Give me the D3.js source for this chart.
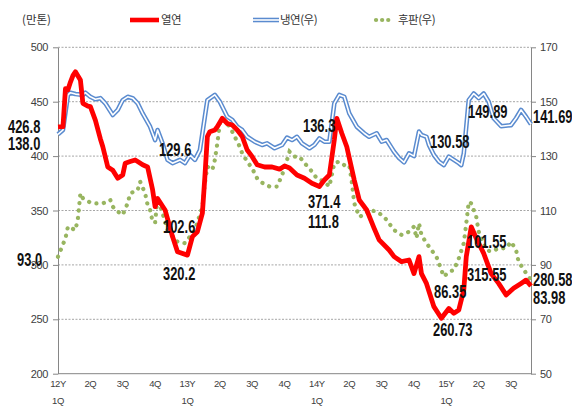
<!DOCTYPE html>
<html>
<head>
<meta charset="utf-8">
<script src="https://cdnjs.cloudflare.com/ajax/libs/d3/7.8.5/d3.min.js"></script>
<style>
  body { margin: 0; background: #fff; }
  svg text { font-family: "Liberation Sans", Arial, sans-serif; }
</style>
</head>
<body>
<div id="chart"></div>
<script>
// weekly data, week 0 = 2012 1Q start
var hotRolled = [
	[0,426.8],[2,427],[3,462],[4,461],[5,468],[6,474],[7,477.6],[9,470],[10,448.5],[12,446],[13,445.5],
	[15,433],[17,416],[18,408.6],[20,390],[22,387],[24,379.6],[26,382.6],[27,393.4],[29,395],[31,396.4],
	[32,395],[34,392],[36,390],[38,369],[39,353.5],[40,361],[43,350.5],[46,326],[48,312],[52,309],
	[54,326],[56,330.5],[58,347.5],[59,381],[60,418],[61,422.4],[63,424],[64,427],[66,434.7],[68,430],
	[70,428.6],[72,424],[74,418],[76,405.6],[78,399.5],[80,392],[83,390],[86,390],[89,388],[91,391],
	[93,389],[96,382.6],[99,379.6],[102,375],[105,372],[107,378],[109,382.6],[111,415],[112,434.7],
	[114,421],[116,408.6],[119,378],[121,359.7],[124,350.5],[127,333.6],[129,323],[133,313.7],[135,307.6],
	[137,304.5],[138,303],[141,304.5],[143,292],[145,307.6],[146,292],[148,283],[151,261.6],[154,251],
	[157,260],[159,255.5],[161,258.6],[163,277],[164,307.6],[166,335],[168,324.5],[171,310.6],[174,292],
	[177,283],[180,272.4],[183,278.5],[186,283],[188,286],[190,280.6]
];

var coldRolled = [
	[0,138.0],[2,139.6],[4,152.5],[5,153.3],[7,152.8],[10,152.5],[11,153.3],[13,151.8],[15,150.9],[17,151.3],
	[19,149.4],[22,145.1],[24,147],[26,150.6],[28,151.8],[30,151.3],[32,149.4],[34,145.7],[37,140.8],
	[39,135.9],[40,139.6],[42,134.7],[44,128.6],[46,127.4],[49,128.6],[51,127.4],[53,130.4],[55,128.6],
	[57,132.2],[59,144.5],[60,150.6],[63,152.5],[65,150],[68,144.5],[70,143.3],[72,140.8],[74,139.6],
	[76,137.1],[79,135.3],[82,134.1],[84,134.7],[87,132.9],[90,134.1],[92,136.8],[94,135.9],[96,137.1],
	[98,134.7],[101,132.9],[103,134.1],[105,136.5],[107,135.3],[109,135.3],[111,149.4],[113,152.5],
	[115,151.8],[117,145.7],[120,140.8],[123,138.4],[125,137.1],[128,138.4],[130,135.3],[132,135.9],
	[135,131.6],[137,129.3],[139,127.7],[141,131],[143,130],[145,139],[146,137.8],[148,137.1],[149,134.1],
	[151,130.4],[153,128],[155,126.7],[157,129.8],[159,128.6],[161,127.4],[162,126.7],[163,131],[165,150.6],
	[167,153],[169,151.3],[171,153],[173,150],[175,143.9],[178,141],[182,141.4],[184,143.9],[186,147],
	[188,144.5],[190,141.7]
];

var plate = [
	[0,93.0],[3,99.8],[4,104.1],[7,102.8],[8,107.1],[9,116.3],[10,114.5],[13,112.9],[15,112.6],[18,112.6],
	[21,113.9],[22,111.4],[24,109.6],[26,108.4],[28,112.7],[29,116.3],[32,117.5],[33,120.6],[35,116.3],
	[36,112],[37,110.2],[38,105.9],[39,105.5],[40,115],[42,109],[44,102.8],[46,100.4],[48,98.5],[51,98],
	[53,100.4],[55,102.8],[58,111.4],[59,120],[60,126.1],[62,124.9],[63,128.6],[64,134.7],[65,142],
	[66,143.9],[68,142],[70,139],[72,135.3],[73,133.5],[74,131],[76,128],[78,125.5],[80,121.8],[82,120.2],
	[85,118.8],[88,118.8],[90,123],[92,128.6],[93,131.6],[95,129.8],[97,129.8],[99,127.4],[101,125.5],
	[104,121.8],[107,120.6],[109,118.8],[111,127.4],[113,128],[115,126.7],[117,126.7],[118,120.6],
	[119,112.7],[121,107.7],[123,108.4],[125,110.2],[128,109.6],[131,107.7],[133,105.3],[135,102.8],
	[138,101],[141,102.2],[143,104.1],[144,99.8],[145,105.3],[146,101],[148,98],[150,95.5],[152,93],
	[155,85.7],[157,87.5],[159,88.1],[161,92.4],[163,98],[164,105.3],[165,113.2],[166,112.6],[168,107.7],
	[169,102.2],[172,95.5],[174,94.9],[177,96.1],[180,96.1],[182,98.5],[184,95.5],[185,91.2],[188,87],
	[190,84.5]
];

var leftTicks = [200, 250, 300, 350, 400, 450, 500];
var rightTicks = [50, 70, 90, 110, 130, 150, 170];
var quarterLabels = ["12Y|1Q","2Q","3Q","4Q","13Y|1Q","2Q","3Q","4Q","14Y|1Q","2Q","3Q","4Q","15Y|1Q","2Q","3Q"];
var seriesNames = ["열연", "냉연(우)", "후판(우)"];
var valueLabels = ["426.8","138.0","129.6","93.0","102.6","320.2","136.3","371.4","111.8",
	"130.58","149.89","141.69","101.55","315.55","86.35","260.73","280.58","83.98"];

// label placement (start x, baseline y)
var labelPos = [[8,133],[8,150],[159,156],[17,266],[163,233],[163,280],[303,132],[308,208],[308,228],
	[430,148],[468,118],[533,123],[467,248],[467,281],[434,298],[433,336],[533,286],[533,304]];

var chartW = 572,
	chartH = 412,
	plotLeft = 58,
	plotRight = 531,
	plotTop = 47.3,
	plotBottom = 373.7;

var svg = d3.select("#chart")
		.append("svg")
		.attr("width", chartW)
		.attr("height", chartH);

var x = d3.scaleLinear().domain([0, 190]).range([plotLeft, plotRight]);
var yL = d3.scaleLinear().domain([200, 500]).range([plotBottom, plotTop]);
var yR = d3.scaleLinear().domain([50, 170]).range([plotBottom, plotTop]);

// gridlines
svg.append("g")
	.selectAll("line")
	.data(leftTicks.slice(1))
	.enter()
	.append("line")
		.attr("x1", plotLeft)
		.attr("x2", plotRight)
		.attr("y1", function(d){return yL(d);})
		.attr("y2", function(d){return yL(d);})
		.attr("stroke", "#a6a6a6")
		.attr("stroke-width", 1)
		.attr("stroke-dasharray", "2,1.5");

// axes
var axL = svg.append("g")
	.attr("transform", "translate(" + plotLeft + ",0)")
	.call(d3.axisLeft(yL).tickValues(leftTicks).tickSize(5).tickSizeOuter(0).tickPadding(5));

var axR = svg.append("g")
	.attr("transform", "translate(" + plotRight + ",0)")
	.call(d3.axisRight(yR).tickValues(rightTicks).tickSize(5).tickSizeOuter(0).tickPadding(4));

[axL, axR].forEach(function(ax) {
	ax.select(".domain").attr("stroke", "#868686");
	ax.selectAll(".tick line").attr("stroke", "#868686");
	ax.selectAll(".tick text")
		.attr("fill", "#404040")
		.style("font-size", "11px")
		.style("letter-spacing", "-0.4px");
});

svg.append("line")
	.attr("x1", plotLeft)
	.attr("x2", plotRight)
	.attr("y1", plotBottom)
	.attr("y2", plotBottom)
	.attr("stroke", "#868686");

// x labels
var xl = svg.append("g")
	.selectAll("text")
	.data(quarterLabels)
	.enter()
	.append("text")
		.attr("text-anchor", "middle")
		.attr("fill", "#404040")
		.style("font-size", "9.5px")
		.style("letter-spacing", "-0.4px");

xl.each(function(d, i) {
	var parts = d.split("|");
	var t = d3.select(this);
	parts.forEach(function(p, j) {
		t.append("tspan")
			.attr("x", x(i * 13))
			.attr("y", 387 + j * 17)
			.text(p);
	});
});

// series
var lineL = d3.line().x(function(d){return x(d[0]);}).y(function(d){return yL(d[1]);});
var lineR = d3.line().x(function(d){return x(d[0]);}).y(function(d){return yR(d[1]);});

svg.append("path")
	.datum(coldRolled)
	.attr("d", lineR)
	.attr("fill", "none")
	.attr("stroke", "#5a8bcf")
	.attr("stroke-width", 4.6)
	.attr("stroke-linejoin", "round");

svg.append("path")
	.datum(coldRolled)
	.attr("d", lineR)
	.attr("fill", "none")
	.attr("stroke", "#ffffff")
	.attr("stroke-width", 1.6)
	.attr("stroke-linejoin", "round");

svg.append("path")
	.datum(plate)
	.attr("d", lineR)
	.attr("fill", "none")
	.attr("stroke", "#98b560")
	.attr("stroke-width", 4.2)
	.attr("stroke-linecap", "round")
	.attr("stroke-dasharray", "0.1,7.4");

svg.append("path")
	.datum(hotRolled)
	.attr("d", lineL)
	.attr("fill", "none")
	.attr("stroke", "#ff0000")
	.attr("stroke-width", 4.8)
	.attr("stroke-linejoin", "round");

// value labels
svg.append("g")
	.selectAll("text")
	.data(valueLabels)
	.enter()
	.append("text")
		.attr("transform", function(d, i){return "translate(" + labelPos[i][0] + "," + labelPos[i][1] + ") scale(0.68,1)";})
		.attr("fill", "#111")
		.style("font-size", "19px")
		.style("font-weight", "bold")
		.text(function(d){return d;});

// legend
var lg = svg.append("g");

lg.append("text")
	.attr("x", 22)
	.attr("y", 24)
	.attr("fill", "#333")
	.style("font-size", "11.5px")
	.style("font-family", "'Noto Sans CJK KR', sans-serif")
	.text("(만톤)");

lg.append("line")
	.attr("x1", 130).attr("x2", 159).attr("y1", 20).attr("y2", 20)
	.attr("stroke", "#ff0000").attr("stroke-width", 4.6);

lg.append("line")
	.attr("x1", 253).attr("x2", 279).attr("y1", 20).attr("y2", 20)
	.attr("stroke", "#5a8bcf").attr("stroke-width", 4.6);
lg.append("line")
	.attr("x1", 253).attr("x2", 279).attr("y1", 20).attr("y2", 20)
	.attr("stroke", "#fff").attr("stroke-width", 1.6);

lg.append("line")
	.attr("x1", 376).attr("x2", 394).attr("y1", 20).attr("y2", 20)
	.attr("stroke", "#98b560").attr("stroke-width", 4.2)
	.attr("stroke-linecap", "round").attr("stroke-dasharray", "0.1,6");

lg.selectAll("text.name")
	.data(seriesNames)
	.enter()
	.append("text")
		.attr("class", "name")
		.attr("x", function(d, i){return [161, 280, 398][i];})
		.attr("y", 24)
		.attr("fill", "#333")
		.style("font-size", "11.5px")
		.style("font-family", "'Noto Sans CJK KR', sans-serif")
		.style("letter-spacing", "-0.5px")
		.text(function(d){return d;});
</script>
</body>
</html>
